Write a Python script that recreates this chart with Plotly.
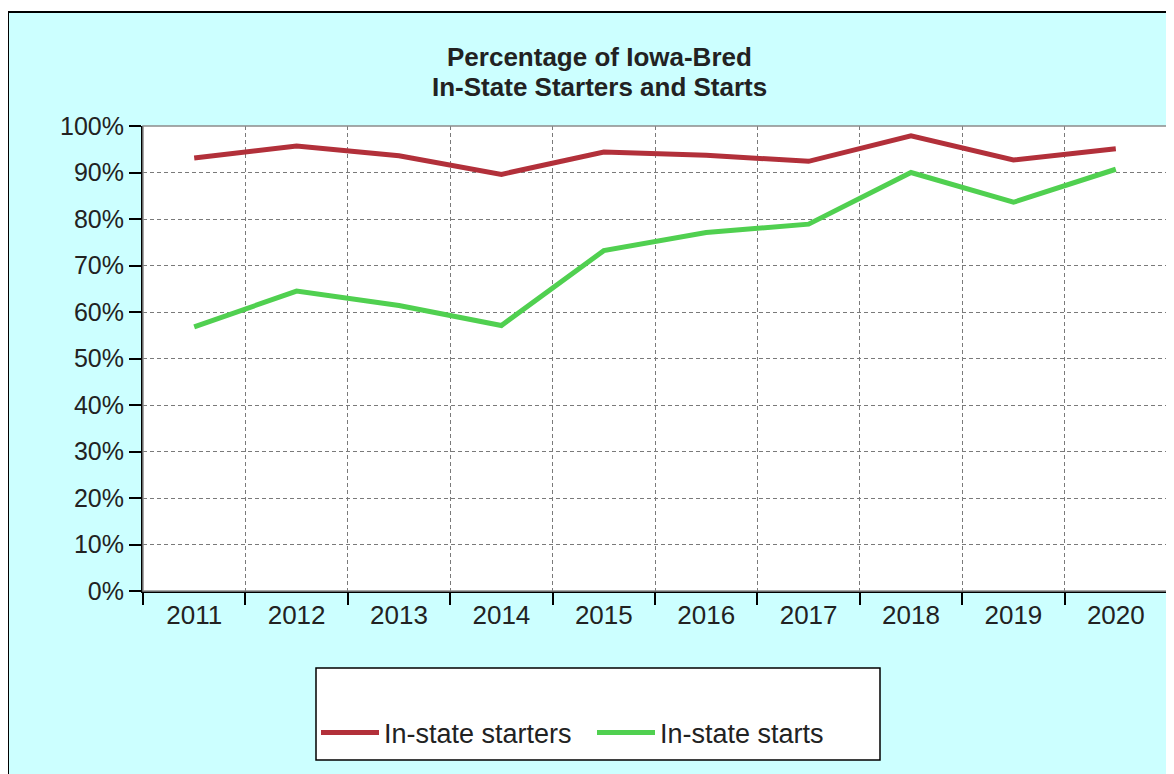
import plotly.graph_objects as go

years = ["2011", "2012", "2013", "2014", "2015", "2016", "2017", "2018", "2019", "2020"]
starters = [93.1, 95.7, 93.6, 89.6, 94.4, 93.7, 92.4, 97.9, 92.7, 95.1]
starts = [56.8, 64.5, 61.4, 57.1, 73.2, 77.1, 78.9, 90.0, 83.6, 90.7]
y_ticks = [0, 10, 20, 30, 40, 50, 60, 70, 80, 90, 100]
y_labels = [f"{v}%" for v in y_ticks]
title_lines = ["Percentage of Iowa-Bred", "In-State Starters and Starts"]

OFF = 8  # page body margin
W, H = 1174 - OFF, 774 - OFF
L, R, T, B = 143 - OFF, 1167 - OFF, 126 - OFF, 591 - OFF
pw, ph = R - L, B - T

def px(x):
    return (x - OFF - L) / pw

def py(y):
    return (B - (y - OFF)) / ph

FONT = "Arial, Liberation Sans, sans-serif"

fig = go.Figure()
fig.add_trace(go.Scatter(x=years, y=starters, mode="lines", name="In-state starters",
                         line=dict(color="#B2303A", width=5)))
fig.add_trace(go.Scatter(x=years, y=starts, mode="lines", name="In-state starts",
                         line=dict(color="#50D050", width=5)))

shapes = [
    dict(type="rect", xref="paper", yref="paper", x0=px(8), x1=px(1190), y0=py(800), y1=py(12),
         fillcolor="#CCFFFF", line=dict(color="black", width=2), layer="below"),
    dict(type="rect", xref="paper", yref="paper", x0=0, x1=1, y0=0, y1=1,
         fillcolor="white", line=dict(width=0), layer="below"),
    dict(type="rect", xref="paper", yref="paper", x0=px(316), x1=px(880), y0=py(760), y1=py(668),
         fillcolor="white", line=dict(color="black", width=1.5), layer="below"),
    dict(type="rect", xref="paper", yref="paper", x0=0, x1=1, y0=0, y1=1,
         line=dict(color="#8C8C8C", width=1.5), layer="above"),
]

annotations = [
    dict(text=f"<b>{t}</b>", xref="paper", yref="paper", x=px(599), y=py(yc), xanchor="center",
         yanchor="middle", showarrow=False, font=dict(size=26, family=FONT, color="#222222"))
    for t, yc in zip(title_lines, [57, 87])
]

fig.update_layout(
    width=W, height=H,
    margin=dict(l=L, r=W - R, t=T, b=H - B),
    paper_bgcolor="white",
    plot_bgcolor="white",
    font=dict(family=FONT, size=24, color="#222222"),
    shapes=shapes,
    showlegend=True,
    legend=dict(orientation="h", x=px(316), y=py(733), xanchor="left", yanchor="middle",
                bgcolor="rgba(0,0,0,0)", borderwidth=0, font=dict(size=27, family=FONT),
                entrywidth=203, entrywidthmode="pixels", itemwidth=58, tracegroupgap=0),
    annotations=annotations,
)

fig.update_xaxes(type="category", tickson="boundaries", ticks="outside", ticklen=12, tickwidth=2,
                 tickcolor="black", showline=True, linecolor="black", linewidth=2,
                 showgrid=True, gridcolor="#7A7A7A", gridwidth=1, griddash="4px,3px",
                 tickfont=dict(size=26, family=FONT), range=[-0.5, 9.5])
fig.update_yaxes(range=[0, 100], tickvals=y_ticks, ticktext=y_labels, ticks="outside", ticklen=12,
                 tickwidth=2, tickcolor="black", showline=True, linecolor="black", linewidth=2,
                 showgrid=True, gridcolor="#7A7A7A", gridwidth=1, griddash="4px,3px",
                 zeroline=False, tickfont=dict(size=25, family=FONT))

fig.write_html("out.html")
